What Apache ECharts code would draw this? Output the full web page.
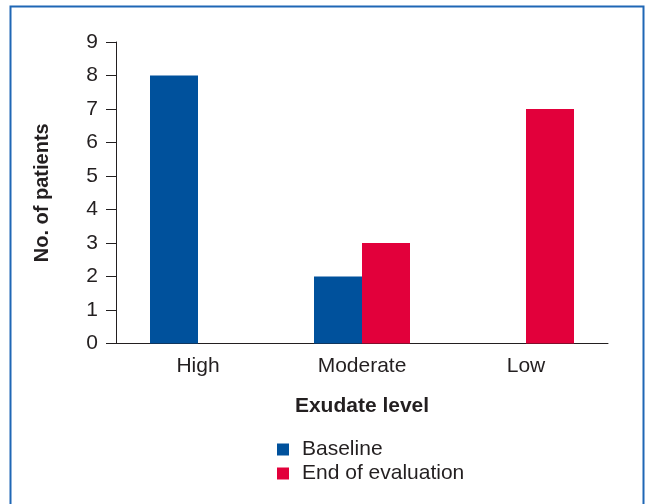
<!DOCTYPE html>
<html><head><meta charset="utf-8">
<script src="https://cdn.jsdelivr.net/npm/echarts@6/dist/echarts.min.js"></script>
<style>html,body{margin:0;padding:0;background:#fff}#c{width:647px;height:504px}</style>
</head><body><div id="c"></div>
<script>
const categories = ['High', 'Moderate', 'Low'];
const baseline = [8, 2, 0];
const endOfEvaluation = [0, 3, 7];
const yTicks = [0, 1, 2, 3, 4, 5, 6, 7, 8, 9];

const font = 'Liberation Sans, Arial, Helvetica, sans-serif';
const chart = echarts.init(document.getElementById('c'), null, {renderer: 'canvas'});
chart.setOption({
  animation: false,
  backgroundColor: '#fff',
  graphic: [{
    type: 'rect', left: 8, top: 4,
    shape: {x: 0, y: 0, width: 633, height: 520},
    style: {fill: 'none', stroke: '#1f67b5', lineWidth: 2}
  }],
  grid: {left: 116, top: 42, width: 492, height: 301.5, containLabel: false},
  legend: {
    orient: 'vertical', left: 277, top: 439, padding: 0,
    itemWidth: 12, itemHeight: 12, itemGap: 3,
    icon: 'rect',
    textStyle: {fontFamily: font, fontSize: 21, color: '#231f20', padding: [0, 0, 0, 8]},
    data: ['Baseline', 'End of evaluation']
  },
  xAxis: {
    type: 'category', data: categories,
    name: 'Exudate level', nameLocation: 'middle', nameGap: 52,
    nameTextStyle: {fontFamily: font, fontSize: 21, fontWeight: 'bold', color: '#231f20'},
    axisLine: {lineStyle: {color: '#231f20', width: 1}},
    axisTick: {show: false},
    axisLabel: {fontFamily: font, fontSize: 21, color: '#231f20', margin: 12}
  },
  yAxis: {
    type: 'value', min: yTicks[0], max: yTicks[yTicks.length - 1], interval: 1,
    name: 'No. of patients', nameLocation: 'middle', nameGap: 64, nameRotate: 90,
    nameTextStyle: {fontFamily: font, fontSize: 20, fontWeight: 'bold', color: '#231f20'},
    axisLine: {show: true, lineStyle: {color: '#231f20', width: 1}},
    axisTick: {show: true, length: 10, lineStyle: {color: '#231f20'}},
    splitLine: {show: false},
    axisLabel: {fontFamily: font, fontSize: 21, color: '#231f20', margin: 18}
  },
  series: [
    {name: 'Baseline', type: 'bar', data: baseline, barWidth: 48, barGap: '0%', itemStyle: {color: '#00519c'}},
    {name: 'End of evaluation', type: 'bar', data: endOfEvaluation, barWidth: 48, barGap: '0%', itemStyle: {color: '#e2003b'}}
  ]
});
</script></body></html>
